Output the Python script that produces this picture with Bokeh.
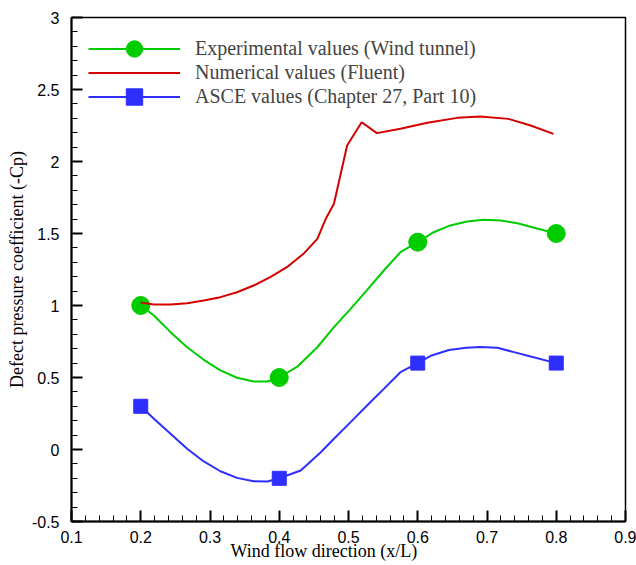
from bokeh.plotting import figure
from bokeh.models import Range1d, FixedTicker, Legend, LegendItem, Title
from bokeh.embed import file_html
from bokeh.resources import INLINE

# ---- data ----
# measured points (markers)
x_pts = [0.2, 0.4, 0.6, 0.8]
exp_vals = [1.0, 0.5, 1.44, 1.5]
asce_vals = [0.3, -0.2, 0.6, 0.6]

# smooth curves
exp_curve_x = [0.2, 0.219, 0.243, 0.267, 0.291, 0.315, 0.339, 0.363, 0.383, 0.4, 0.426, 0.455,
               0.479, 0.503, 0.527, 0.551, 0.575, 0.6, 0.623, 0.647, 0.671, 0.695, 0.72, 0.744,
               0.768, 0.8]
exp_curve_y = [1.0, 0.931, 0.815, 0.71, 0.623, 0.549, 0.498, 0.472, 0.472, 0.5, 0.575, 0.71,
               0.85, 0.977, 1.109, 1.243, 1.37, 1.44, 1.509, 1.556, 1.583, 1.595, 1.59, 1.571,
               1.54, 1.5]

num_x = [0.2, 0.219, 0.243, 0.267, 0.291, 0.315, 0.339, 0.363, 0.387, 0.411, 0.435, 0.455,
         0.467, 0.479, 0.498, 0.519, 0.541, 0.575, 0.614, 0.657, 0.69, 0.731, 0.763, 0.796]
num_y = [1.02, 1.007, 1.007, 1.016, 1.035, 1.058, 1.092, 1.139, 1.197, 1.266, 1.359, 1.463,
         1.60, 1.706, 2.111, 2.273, 2.197, 2.227, 2.269, 2.303, 2.313, 2.296, 2.25, 2.192]

asce_curve_x = [0.2, 0.219, 0.243, 0.267, 0.291, 0.315, 0.339, 0.363, 0.383, 0.4, 0.431, 0.46,
                0.479, 0.503, 0.534, 0.551, 0.575, 0.6, 0.62, 0.645, 0.67, 0.69, 0.715, 0.739,
                0.763, 0.8]
asce_curve_y = [0.3, 0.213, 0.109, 0.005, -0.083, -0.151, -0.197, -0.22, -0.222, -0.2, -0.146,
                -0.019, 0.075, 0.19, 0.34, 0.421, 0.537, 0.6, 0.653, 0.691, 0.706, 0.712, 0.706,
                0.676, 0.646, 0.6]

x_ticks = [0.1, 0.2, 0.3, 0.4, 0.5, 0.6, 0.7, 0.8, 0.9]
x_tick_labels = ["0.1", "0.2", "0.3", "0.4", "0.5", "0.6", "0.7", "0.8", "0.9"]
y_ticks = [-0.5, 0, 0.5, 1, 1.5, 2, 2.5, 3]
y_tick_labels = ["-0.5", "0", "0.5", "1", "1.5", "2", "2.5", "3"]

series_labels = ["Experimental values (Wind tunnel)", "Numerical values (Fluent)",
                 "ASCE values (Chapter 27, Part 10)"]
x_title = "Wind flow direction (x/L)"
y_title = "Defect pressure coefficient (-Cp)"

GREEN = "#00cc00"
RED = "#d40000"
BLUE = "#2e2eff"

p = figure(frame_width=554, frame_height=504, output_backend="svg", toolbar_location=None,
           x_range=Range1d(0.1, 0.9), y_range=Range1d(-0.5, 3),
           min_border_left=71, min_border_right=11, min_border_top=17, min_border_bottom=44)

p.xgrid.visible = False
p.ygrid.visible = False
p.outline_line_color = "black"
p.outline_line_width = 1.5
p.background_fill_color = "white"
p.border_fill_color = "white"

g_line = p.line(exp_curve_x, exp_curve_y, color=GREEN, line_width=2)
g_mark = p.scatter(x_pts, exp_vals, marker="circle", size=18, color=GREEN)
r_line = p.line(num_x, num_y, color=RED, line_width=2)
b_line = p.line(asce_curve_x, asce_curve_y, color=BLUE, line_width=2)
b_mark = p.scatter(x_pts, asce_vals, marker="square", size=14, color=BLUE)

minor_x = [round(0.1 + 0.02 * i, 3) for i in range(41)]
minor_y = [round(-0.5 + 0.1 * i, 3) for i in range(36)]
p.xaxis.ticker = FixedTicker(ticks=x_ticks, minor_ticks=minor_x)
p.yaxis.ticker = FixedTicker(ticks=y_ticks, minor_ticks=minor_y)
p.xaxis.major_label_overrides = dict(zip(x_ticks, x_tick_labels))
p.yaxis.major_label_overrides = dict(zip(y_ticks, y_tick_labels))

for ax in (p.xaxis[0], p.yaxis[0]):
    ax.axis_line_width = 2
    ax.axis_line_color = "black"
    ax.major_tick_in = 11
    ax.major_tick_out = 0
    ax.minor_tick_in = 6
    ax.minor_tick_out = 0
    ax.major_tick_line_width = 2
    ax.minor_tick_line_width = 1
    ax.major_tick_line_color = "black"
    ax.minor_tick_line_color = "black"
    ax.major_label_text_font = "Liberation Sans"
    ax.major_label_text_font_size = "16px"
    ax.major_label_text_color = "black"
    ax.axis_label_text_font = "Liberation Serif"
    ax.axis_label_text_font_size = "18px"
    ax.axis_label_text_font_style = "normal"
    ax.axis_label_text_color = "black"

p.yaxis.axis_label = y_title
p.xaxis.major_label_standoff = 9
p.yaxis.major_label_standoff = 12
p.yaxis.axis_label_standoff = 2

# x-axis title, slightly left of centre as in the reference
p.add_layout(Title(text=x_title, align="left", offset=159, standoff=-10,
                   vertical_align="top", text_font="Liberation Serif",
                   text_font_size="18px", text_font_style="normal",
                   text_color="black"), "below")

# one legend per entry so that rows can be closer than the glyph box height
rows = [
    (series_labels[0], [g_line, g_mark], 452),
    (series_labels[1], [r_line], 428),
    (series_labels[2], [b_line, b_mark], 404),
]
for label, rends, ypos in rows:
    lg = Legend(items=[LegendItem(label=label, renderers=rends)],
                location=(17, ypos), margin=0, padding=0, spacing=0,
                glyph_width=92, glyph_height=41, label_height=41, label_standoff=15,
                label_text_font="Liberation Serif", label_text_font_size="20px",
                border_line_color=None, background_fill_alpha=0)
    p.add_layout(lg)

open("out.html", "w").write(file_html(p, INLINE))
